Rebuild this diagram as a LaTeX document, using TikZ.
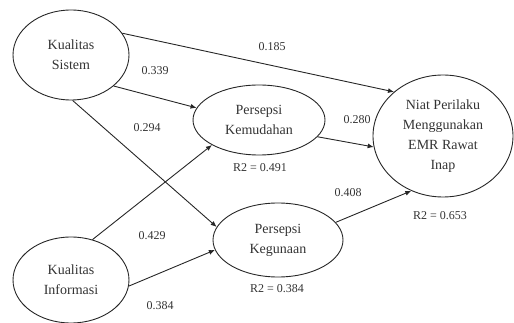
\documentclass[tikz,border=0pt]{standalone}
\usepackage{fontspec}
\setmainfont{Liberation Serif}
\usetikzlibrary{shapes.geometric,arrows.meta}
\begin{document}
\begin{tikzpicture}[x=1pt,y=-1pt,
  lv/.style={draw=black!85, line width=0.9pt, ellipse, inner sep=0pt, align=center,
    font=\fontsize{14}{20}\selectfont, text=black!80},
  pth/.style={draw=black!85, line width=0.9pt, -{Latex[length=6pt,width=5pt]}},
  coef/.style={font=\fontsize{12}{14}\selectfont, text=black!80, inner sep=0pt}]
\useasboundingbox (0,0) rectangle (514,323);
\node[lv, minimum width=116, minimum height=90] (ks) at (71,55) {Kualitas\\Sistem};
\node[lv, minimum width=116, minimum height=86] (ki) at (71,280) {Kualitas\\Informasi};
\node[lv, minimum width=132, minimum height=70] (pk) at (259,120) {Persepsi\\Kemudahan};
\node[lv, minimum width=130, minimum height=74] (pg) at (278,240) {Persepsi\\Kegunaan};
\node[lv, minimum width=140, minimum height=122] (np) at (443,136) {Niat Perilaku\\Menggunakan\\EMR Rawat\\Inap};
\draw[pth] (ks.23) -- (np.138);
\draw[pth] (ks.-36) -- (pk.169);
\draw[pth] (ks.-88) -- (pg.168);
\draw[pth] (ki.62) -- (pk.208);
\draw[pth] (ki.-6) -- (pg.189);
\draw[pth] (pk.-16) -- (np.189);
\draw[pth] (pg.17) -- (np.240);
\node[coef] (c1) at (272,47) {0.185};
\node[coef] (c2) at (155,71) {0.339};
\node[coef] (c3) at (147,128) {0.294};
\node[coef] (c4) at (357,120) {0.280};
\node[coef] (c5) at (348,193) {0.408};
\node[coef] (c6) at (152,236) {0.429};
\node[coef] (c7) at (160,306) {0.384};
\node[coef] (r1) at (260,168) {R2 = 0.491};
\node[coef] (r2) at (277,289) {R2 = 0.384};
\node[coef] (r3) at (440,216) {R2 = 0.653};
\end{tikzpicture}
\end{document}
